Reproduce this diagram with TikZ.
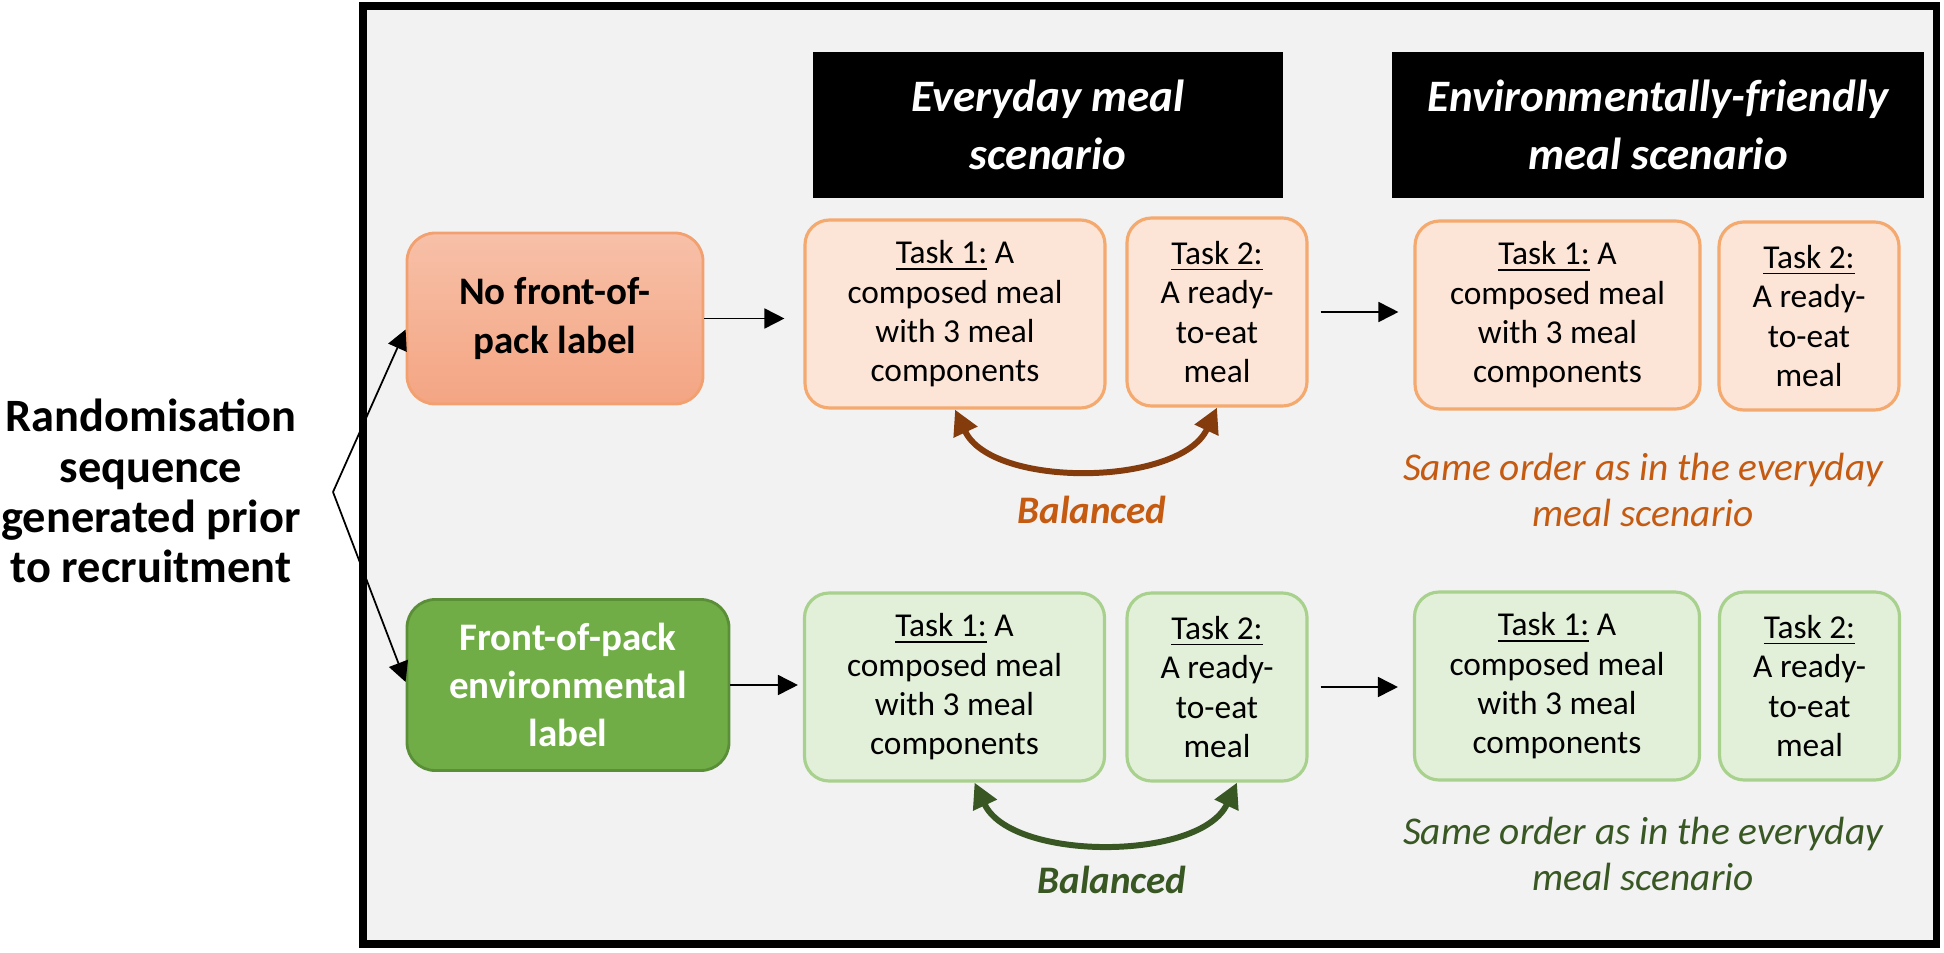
\documentclass[tikz,border=0pt]{standalone}
\usepackage{fontspec}
\setmainfont{Carlito}
\usepackage{tikz}
\usetikzlibrary{arrows.meta}
\usetikzlibrary{positioning,calc}

\definecolor{bgGray}{HTML}{F2F2F2}
\definecolor{salmonTop}{HTML}{F7C0A8}
\definecolor{salmonBot}{HTML}{F4A583}
\definecolor{salmonEdge}{HTML}{F2A070}
\definecolor{taskOr}{HTML}{FCE4D6}
\definecolor{taskOrEdge}{HTML}{F4A96F}
\definecolor{labGreen}{HTML}{70AD47}
\definecolor{labGreenEdge}{HTML}{5A8F38}
\definecolor{taskGr}{HTML}{E2F0D9}
\definecolor{taskGrEdge}{HTML}{A9D18E}
\definecolor{txtOrange}{HTML}{C55A11}
\definecolor{arrBrown}{HTML}{843C0C}
\definecolor{txtGreen}{HTML}{385723}

\newcommand{\taskone}{\underline{Task 1:} A\\composed meal\\with 3 meal\\components}
\newcommand{\tasktwo}{\underline{Task 2:}\\A ready-\\to-eat\\meal}

\begin{document}
\begin{tikzpicture}[
Header/.style={fill=black,text=white,minimum height=1.46cm,align=center,
  font=\fontsize{12.8}{16.5}\selectfont\bfseries\itshape},
LabelBox/.style={rounded corners=8pt,line width=0.8pt,minimum height=1.71cm,
  align=center,font=\fontsize{11.1}{13.7}\selectfont\bfseries},
TaskBox/.style={rounded corners=7pt,line width=0.9pt,minimum height=1.88cm,
  align=center,inner sep=0pt,font=\fontsize{9.5}{11.2}\selectfont},
TaskOne/.style={TaskBox,minimum width=3.0cm},
TaskTwo/.style={TaskBox,minimum width=1.8cm},
OrTask/.style={draw=taskOrEdge,fill=taskOr},
GrTask/.style={draw=taskGrEdge,fill=taskGr},
Arr/.style={-{Triangle[length=2mm,width=2mm]},line width=0.5pt},
BalArr/.style={{Triangle[length=2.5mm,width=2.5mm]}-{Triangle[length=2.5mm,width=2.5mm]},
  line width=1.7pt},
Note/.style={align=center,font=\fontsize{11.2}{13.1}\selectfont\itshape}
]
\useasboundingbox (0,0) rectangle (19.44,9.52);

% frame
\draw[line width=2pt,fill=bgGray] (3.63,0.08) rectangle (19.36,9.46);

\node[align=center,font=\fontsize{13.2}{14.3}\selectfont\bfseries] (rand) at (1.51,4.61)
  {Randomisation\\sequence\\generated prior\\to recruitment};
\coordinate (fork) at (3.33,4.60);

% label boxes
\node[LabelBox,draw=salmonEdge,top color=salmonTop,bottom color=salmonBot,
  minimum width=2.96cm] (nolab) at (5.55,6.335) {No front-of-\\pack label};
\node[LabelBox,draw=labGreenEdge,fill=labGreen,text=white,
  minimum width=3.22cm] (envlab) at (5.68,2.67) {Front-of-pack\\environmental\\label};

% headers
\node[Header,minimum width=4.70cm] (hd1) at (10.48,8.27) {Everyday meal\\scenario};
\node[Header,minimum width=5.32cm] (hd2) at (16.58,8.27) {Environmentally-friendly\\meal scenario};

% tasks, no label
\node[TaskOne,OrTask] (t1a) at (9.55,6.38) {\taskone};
\node[TaskTwo,OrTask] (t2a) at (12.17,6.40) {\tasktwo};
\node[TaskOne,OrTask,minimum width=2.85cm] (t1b) at (15.575,6.37) {\taskone};
\node[TaskTwo,OrTask] (t2b) at (18.09,6.36) {\tasktwo};

% tasks, environmental label
\node[TaskOne,GrTask] (t1c) at (9.545,2.65) {\taskone};
\node[TaskTwo,GrTask] (t2c) at (12.17,2.65) {\tasktwo};
\node[TaskOne,GrTask,minimum width=2.85cm] (t1d) at (15.57,2.66) {\taskone};
\node[TaskTwo,GrTask] (t2d) at (18.095,2.66) {\tasktwo};

% randomisation
\draw[Arr] (fork) -- ([yshift=-1.1mm]nolab.west);
\draw[Arr] (fork) -- ([yshift=0.3mm]envlab.west);

\draw[Arr,shorten >=1.9mm] (nolab.east) -- (nolab.east -| t1a.west);
\draw[Arr,shorten <=1.2mm,shorten >=1.5mm] (t2a.east) -- (t2a.east -| t1b.west);
\draw[Arr,shorten >=0.5mm] (envlab.east) -- (envlab.east -| t1c.west);
\draw[Arr,shorten <=1.2mm,shorten >=1.5mm] (t2c.east) -- (t2c.east -| t1d.west);

% balanced order
\draw[BalArr,arrBrown] (t1a.south) to[out=-65,in=-115,looseness=0.85] (t2a.south);
\draw[BalArr,txtGreen] ([xshift=2mm]t1c.south) to[out=-65,in=-115,looseness=0.85] ([xshift=2mm]t2c.south);

\node[Note,font=\fontsize{11.1}{13}\selectfont\bfseries\itshape,text=txtOrange] (bal1) at (10.92,4.42) {Balanced};
\node[Note,font=\fontsize{11.1}{13}\selectfont\bfseries\itshape,text=txtGreen] (bal2) at (11.12,0.72) {Balanced};
\node[Note,text=txtOrange] (same1) at (16.43,4.62) {Same order as in the everyday\\meal scenario};
\node[Note,text=txtGreen] (same2) at (16.43,0.98) {Same order as in the everyday\\meal scenario};
\end{tikzpicture}
\end{document}
